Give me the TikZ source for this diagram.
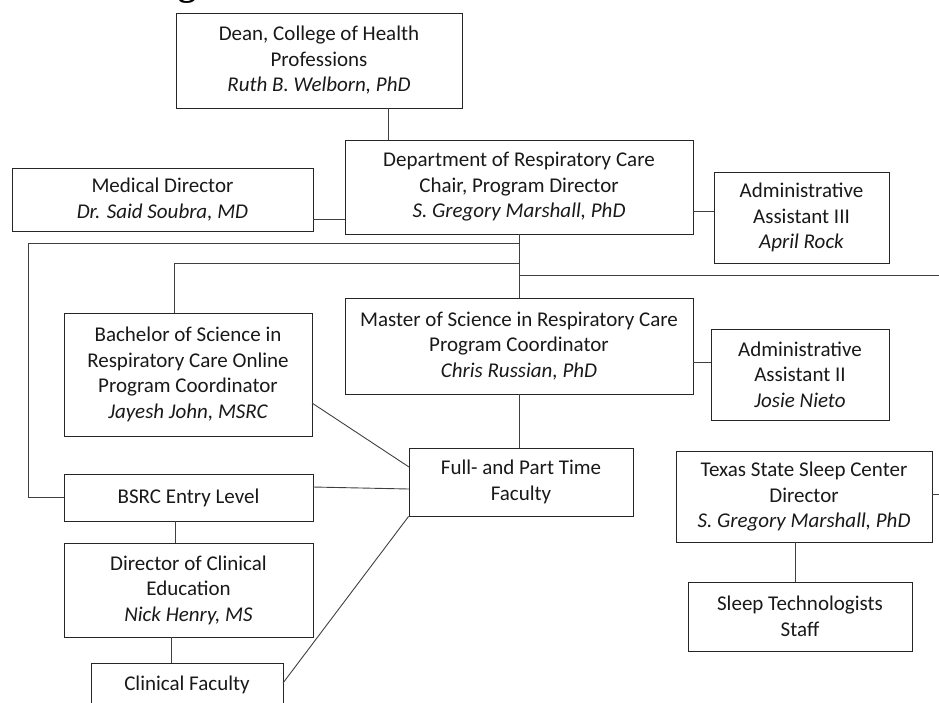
\documentclass[tikz,border=0pt]{standalone}
\usepackage{fontspec}
\setmainfont{Carlito}
\newfontfamily\headfont{Liberation Serif}
\begin{document}
\begin{tikzpicture}[x=1pt,y=-1pt,
  box/.style={draw=black!85, line width=0.9pt, rectangle, align=center, inner sep=0pt,
    font=\fontsize{21}{25.5}\selectfont, text=black!90},
  conn/.style={draw=black!75, line width=0.9pt}]
\useasboundingbox (0,0) rectangle (939,702);
\begin{scope}
\clip (0,0) rectangle (939,702);
\node[anchor=base, font=\headfont\bfseries\fontsize{36}{36}\selectfont] (head) at (187,-5) {g};
\node[box, minimum width=286, minimum height=95] (dean) at (319,60.5)
  {Dean, College of Health\\Professions\\\itshape Ruth B. Welborn, PhD};
\node[box, minimum width=301, minimum height=63] (med) at (162.5,199.5)
  {Medical Director\\\itshape Dr. Said Soubra, MD};
\node[box, minimum width=348, minimum height=94] (dept) at (519,187)
  {Department of Respiratory Care\\Chair, Program Director\\\itshape S. Gregory Marshall, PhD};
\node[box, minimum width=175, minimum height=91] (adm3) at (801.5,217.5)
  {Administrative\\Assistant III\\\itshape April Rock};
\node[box, minimum width=248, minimum height=123] (bach) at (188,374.5)
  {Bachelor of Science in\\Respiratory Care Online\\Program Coordinator\\\itshape Jayesh John, MSRC};
\node[box, minimum width=348, minimum height=96] (mast) at (519,346)
  {Master of Science in Respiratory Care\\Program Coordinator\\\itshape Chris Russian, PhD};
\node[box, minimum width=178, minimum height=91] (adm2) at (800,374.5)
  {Administrative\\Assistant II\\\itshape Josie Nieto};
\node[box, minimum width=224, minimum height=68] (full) at (521,482)
  {Full- and Part Time\\Faculty};
\node[box, minimum width=249, minimum height=47] (bsrc) at (188.5,497.5)
  {BSRC Entry Level};
\node[box, minimum width=249, minimum height=94] (dce) at (188.5,590)
  {Director of Clinical\\Education\\\itshape Nick Henry, MS};
\node[box, minimum width=192, minimum height=44] (clin) at (187,685)
  {Clinical Faculty};
\node[box, minimum width=256, minimum height=91] (tx) at (804,496.5)
  {Texas State Sleep Center\\Director\\\itshape S. Gregory Marshall, PhD};
\node[box, minimum width=224, minimum height=69] (sleep) at (800,616.5)
  {Sleep Technologists\\Staff};
% helper coordinates
\coordinate (dx) at (388,0);
\coordinate (my) at (0,219);
\coordinate (ay) at (0,211);
\coordinate (a2y) at (0,362);
\coordinate (j1) at (519,243);
\coordinate (j2) at (519,263);
\coordinate (j3) at (519,275);
\coordinate (lx) at (28,0);
\coordinate (bx) at (174,0);
\coordinate (redge) at (939,275);
\coordinate (bsx) at (175,0);
\coordinate (dcx) at (171,0);
\coordinate (txx) at (795,0);
\coordinate (txedge) at (939,494);
\coordinate (bachout) at (312,403);
\coordinate (fullin1) at (409,467);
\coordinate (bsrcout) at (313,487);
\coordinate (fullin2) at (409,489);
\coordinate (clinout) at (283,683);
% connectors
\draw[conn] (dean.south -| dx) -- (dept.north -| dx);
\draw[conn] (med.east |- my) -- (dept.west |- my);
\draw[conn] (dept.east |- ay) -- (adm3.west |- ay);
\draw[conn] (dept.south) -- (mast.north);
\draw[conn] (j1) -| (lx |- bsrc.west) -- (bsrc.west);
\draw[conn] (j2) -| (bx |- bach.north);
\draw[conn] (j3) -- (redge);
\draw[conn] (mast.east |- a2y) -- (adm2.west |- a2y);
\draw[conn] (mast.south) -- (mast.south |- full.north);
\draw[conn] (bachout) -- (fullin1);
\draw[conn] (bsrcout) -- (fullin2);
\draw[conn] (clinout) -- (full.south west);
\draw[conn] (bsrc.south -| bsx) -- (dce.north -| bsx);
\draw[conn] (dce.south -| dcx) -- (clin.north -| dcx);
\draw[conn] (tx.south -| txx) -- (sleep.north -| txx);
\draw[conn] (tx.east |- txedge) -- (txedge);
\end{scope}
\end{tikzpicture}
\end{document}
